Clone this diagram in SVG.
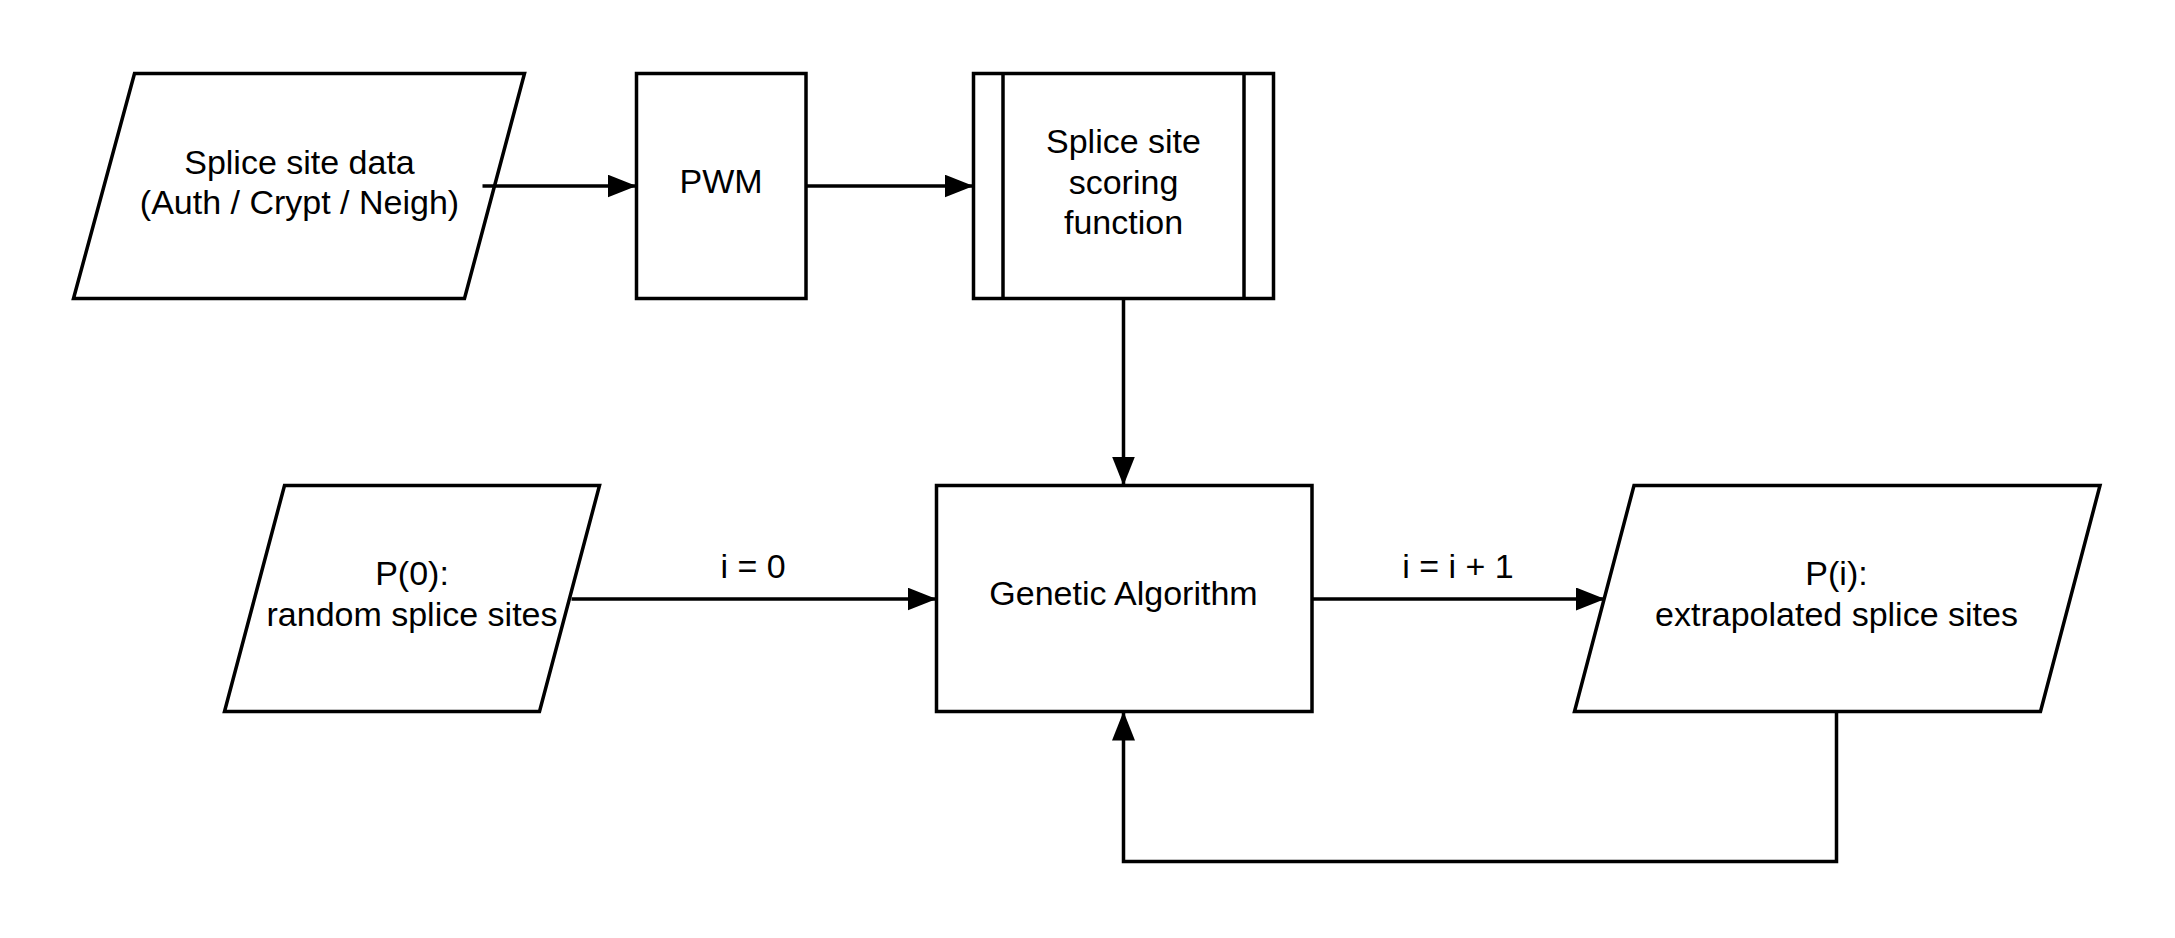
<svg xmlns="http://www.w3.org/2000/svg" width="2175" height="938" viewBox="0 0 2175 938">
<style>
.shape{fill:#ffffff;stroke:#000000;stroke-width:3.5;}
.conn{fill:none;stroke:#000000;stroke-width:3.5;}
text{font-family:"Liberation Sans",Arial,sans-serif;font-size:34px;fill:#000000;text-anchor:middle;}
</style>
<defs>
<marker id="arrow" markerUnits="userSpaceOnUse" markerWidth="32" markerHeight="26" refX="29" refY="11.5" orient="auto">
<path d="M0,0 L29,11.5 L0,23 Z" fill="#000000"/>
</marker>
</defs>
<rect width="2175" height="938" fill="#ffffff"/>
<g id="data">
<polygon class="shape" points="134.5,73.5 524.5,73.5 464.5,298.5 73.5,298.5"/>
<text x="299.5" y="173.5">Splice site data</text>
<text x="299.5" y="214">(Auth / Crypt / Neigh)</text>
</g>
<g id="pwm">
<rect class="shape" x="636.5" y="73.5" width="169.5" height="225"/>
<text x="721" y="193">PWM</text>
</g>
<g id="scoring">
<rect class="shape" x="973.5" y="73.5" width="300" height="225"/>
<line class="conn" x1="1003" y1="73.5" x2="1003" y2="298.5"/>
<line class="conn" x1="1244" y1="73.5" x2="1244" y2="298.5"/>
<text x="1123.5" y="153">Splice site</text>
<text x="1123.5" y="193.5">scoring</text>
<text x="1123.5" y="233.5">function</text>
</g>
<g id="ga">
<rect class="shape" x="936.5" y="485.5" width="375.5" height="226"/>
<text x="1123.5" y="605">Genetic Algorithm</text>
</g>
<g id="p0">
<polygon class="shape" points="284.5,485.5 599.5,485.5 539.5,711.5 224.5,711.5"/>
<text x="412" y="584.5">P(0):</text>
<text x="412" y="626">random splice sites</text>
</g>
<g id="pi">
<polygon class="shape" points="1634,485.5 2100,485.5 2040.5,711.5 1574.5,711.5"/>
<text x="1836.5" y="584.5">P(i):</text>
<text x="1836.5" y="626">extrapolated splice sites</text>
</g>
<g id="connectors">
<line class="conn" x1="482.5" y1="186" x2="636.5" y2="186" marker-end="url(#arrow)"/>
<line class="conn" x1="806" y1="186" x2="973.5" y2="186" marker-end="url(#arrow)"/>
<line class="conn" x1="1123.5" y1="298.5" x2="1123.5" y2="485.5" marker-end="url(#arrow)"/>
<line class="conn" x1="571.5" y1="599" x2="936.5" y2="599" marker-end="url(#arrow)"/>
<line class="conn" x1="1312" y1="599" x2="1605" y2="599" marker-end="url(#arrow)"/>
<polyline class="conn" points="1836.5,711.5 1836.5,861.5 1123.5,861.5 1123.5,711.5" marker-end="url(#arrow)"/>
<text x="753" y="577.5">i = 0</text>
<text x="1458" y="577.5">i = i + 1</text>
</g>
</svg>
